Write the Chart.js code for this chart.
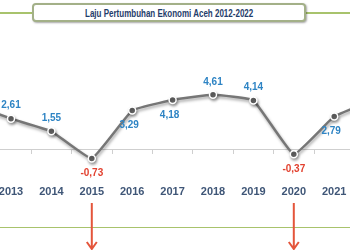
<!DOCTYPE html>
<html>
<head>
<meta charset="utf-8">
<script src="https://cdn.jsdelivr.net/npm/chart.js@4"></script>
<style>
  html, body { margin: 0; padding: 0; background: #fff; }
  body { width: 350px; height: 250px; overflow: hidden; position: relative; }
  .greenline { position: absolute; left: 0; width: 350px; height: 1.5px; background: #a8c36c; }
  #titlebox {
    position: absolute; left: 32px; top: 3px; width: 270px; height: 15px;
    border: 2px solid #a3b088; border-radius: 4px; background: #fff;
    box-shadow: 1px 1px 2px rgba(0,0,0,0.35);
    text-align: center; line-height: 14px; white-space: nowrap;
  }
  #titlebox span {
    display: inline-block; transform: scaleX(0.8);
    font: bold 10px "Liberation Sans", Arial, sans-serif; color: #1f3d6b;
  }
  #wrap { position: absolute; left: -50px; top: 0; width: 450px; height: 250px; }
</style>
</head>
<body>
<div class="greenline" style="top:12px"></div>
<div id="titlebox"><span>Laju Pertumbuhan Ekonomi Aceh 2012-2022</span></div>
<div class="greenline" style="top:226.5px"></div>
<div id="wrap"><canvas id="myChart" width="450" height="250"></canvas></div>
<script>
// Data
const years = ['2012', '2013', '2014', '2015', '2016', '2017', '2018', '2019', '2020', '2021', '2022'];
const growth = [3.85, 2.61, 1.55, -0.73, 3.29, 4.18, 4.61, 4.14, -0.37, 2.79, 4.21];
const labelPos = ['above', 'above', 'above', 'below', 'below', 'below', 'above', 'above', 'below', 'below', 'below'];
const arrowYears = ['2015', '2020'];

// value labels next to each point
const valueLabels = {
  id: 'valueLabels',
  afterDatasetsDraw(chart) {
    const ctx = chart.ctx;
    const meta = chart.getDatasetMeta(0);
    ctx.save();
    ctx.font = 'bold 10px "Liberation Sans", Arial, sans-serif';
    ctx.textAlign = 'center';
    ctx.textBaseline = 'middle';
    meta.data.forEach(function (pt, i) {
      const v = growth[i];
      ctx.fillStyle = v < 0 ? '#e2412f' : '#2e84c4';
      const dy = labelPos[i] === 'above' ? -13 : 15;
      const dx = (labelPos[i] === 'below' && v > 0) ? -3 : 0;
      ctx.fillText(v.toFixed(2).replace('.', ','), pt.x + dx, pt.y + dy);
    });
    ctx.restore();
  }
};

// shadow under the line
const lineShadow = {
  id: 'lineShadow',
  beforeDatasetsDraw(chart) {
    const ctx = chart.ctx;
    ctx.save();
    ctx.shadowColor = 'rgba(0,0,0,0.35)';
    ctx.shadowBlur = 3;
    ctx.shadowOffsetX = 1;
    ctx.shadowOffsetY = 2;
  },
  afterDatasetsDraw(chart) {
    chart.ctx.restore();
  }
};

// red arrows below the crisis years
const arrows = {
  id: 'arrows',
  afterDraw(chart) {
    const ctx = chart.ctx;
    const xs = chart.scales.x;
    ctx.save();
    ctx.strokeStyle = '#e4553b';
    ctx.lineWidth = 2;
    arrowYears.forEach(function (yr) {
      const x = xs.getPixelForValue(years.indexOf(yr));
      ctx.beginPath();
      ctx.moveTo(x, 203);
      ctx.lineTo(x, 249);
      ctx.moveTo(x - 5, 242);
      ctx.lineTo(x, 249);
      ctx.lineTo(x + 5, 242);
      ctx.stroke();
    });
    ctx.restore();
  }
};

const ctx = document.getElementById('myChart').getContext('2d');
const myChart = new Chart(ctx, {
  type: 'line',
  data: {
    labels: years,
    datasets: [{
      data: growth,
      borderColor: '#767676',
      borderWidth: 2.5,
      pointRadius: 3.5,
      pointBackgroundColor: '#666',
      pointBorderColor: '#fff',
      pointBorderWidth: 1.5,
      tension: 0.1,
      fill: false
    }]
  },
  options: {
    responsive: false,
    animation: false,
    events: [],
    layout: { padding: { left: 20.6, right: 25.4, top: 0, bottom: 0 } },
    plugins: { legend: { display: false }, tooltip: { enabled: false } },
    scales: {
      // zero line with small ticks between the years
      x: {
        position: { y: 0 },
        offset: false,
        border: { color: '#cfcfcf', width: 1 },
        grid: { offset: true, drawOnChartArea: false, tickLength: 4, color: '#cfcfcf' },
        ticks: { display: false, padding: 0 }
      },
      // year labels lower down
      x2: {
        type: 'category',
        position: { y: -2.96 },
        offset: false,
        border: { display: false },
        grid: { display: false, drawTicks: false },
        ticks: {
          padding: 0,
          color: '#3f5677',
          font: { family: '"Liberation Sans", Arial, sans-serif', size: 11, weight: 'bold' }
        }
      },
      y: {
        display: false,
        min: -7.92,
        max: 12.08
      }
    }
  },
  plugins: [lineShadow, valueLabels, arrows]
});
</script>
</body>
</html>
